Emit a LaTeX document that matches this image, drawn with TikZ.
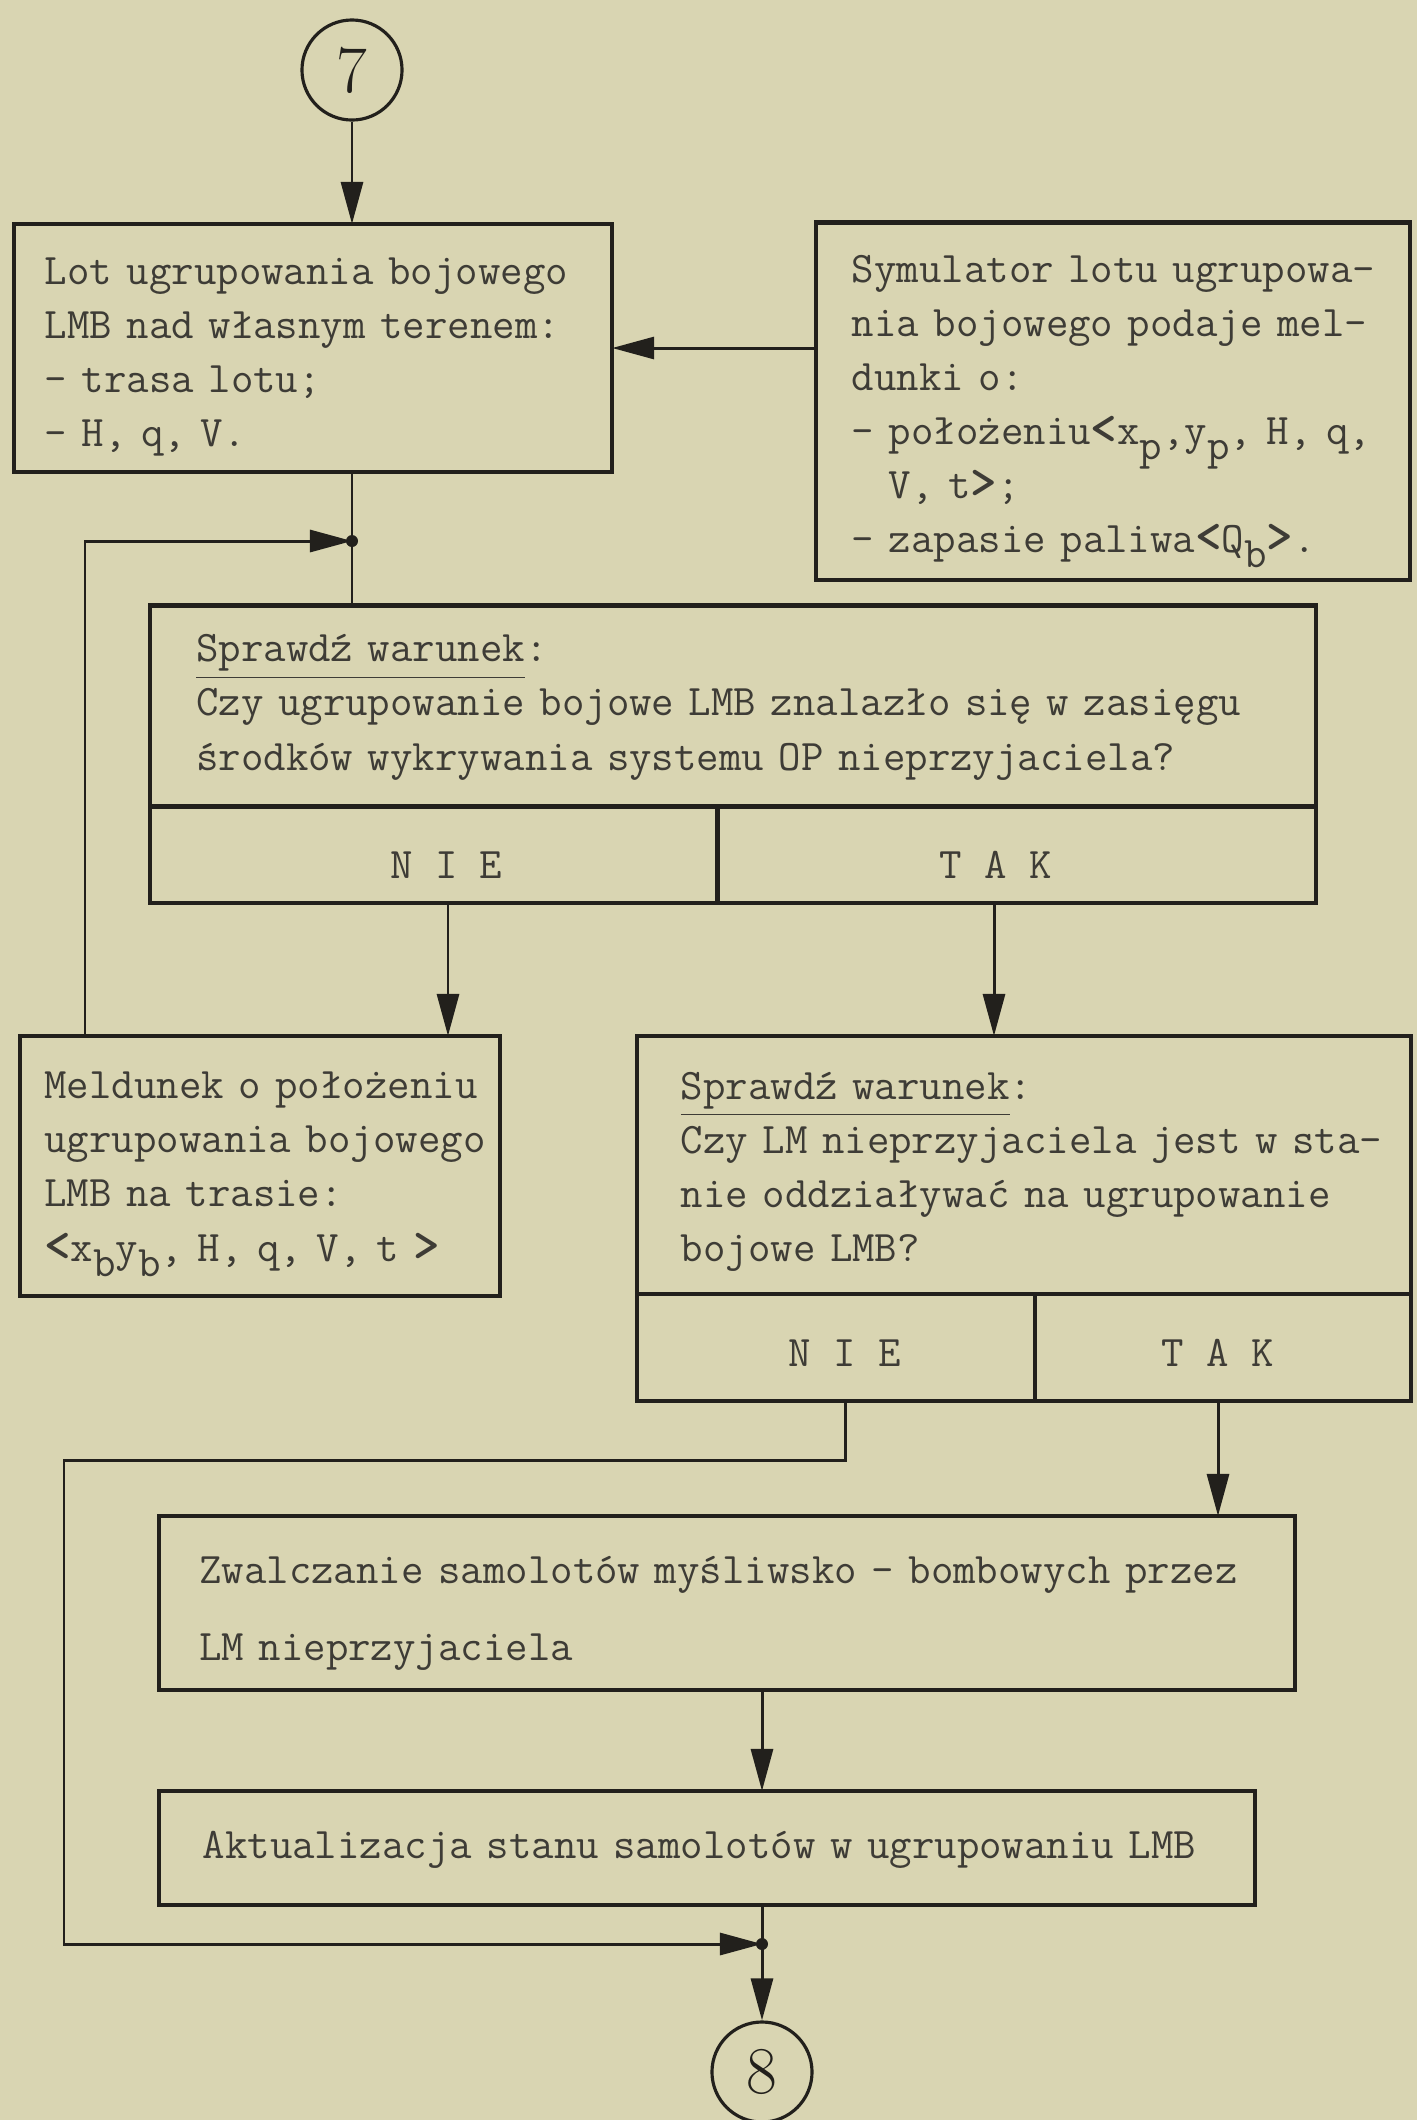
\documentclass[tikz,border=0pt]{standalone}
\usepackage{xcolor}
\usepackage{amsmath}
\usepackage{tikz}
\usetikzlibrary{arrows.meta}
\usetikzlibrary{positioning}

\definecolor{paper}{RGB}{217,213,178}
\definecolor{ink}{RGB}{34,32,28}
\definecolor{type}{RGB}{62,60,54}

\newcommand{\typ}{\fontsize{12.4}{15.4}\selectfont\ttfamily}
\newcommand{\lowr}[1]{\raisebox{-0.8ex}{#1}}
\newcommand{\angl}[1]{{\Large\bfseries #1}}

\begin{document}
\begin{tikzpicture}[x=0.01cm,y=-0.01cm,color=ink,line width=0.85pt,
  >={Triangle[length=0.42cm,width=0.22cm]},
  box/.style={draw,rectangle,line width=1.2pt,outer sep=0pt,inner sep=0pt,align=left,font=\typ,text=type,text height=13pt},
  indent/.style={execute at begin node={\leftskip=#1}},
  cell/.style={draw,rectangle,line width=1.2pt,outer sep=0pt,inner sep=0pt,font=\typ,text=type},
  ring/.style={draw,circle,minimum size=1cm,line width=0.9pt,font=\fontsize{19}{19}\selectfont},
  dot/.style={circle,fill,inner sep=0pt,minimum size=0.12cm}]
\fill[paper] (0,0) rectangle (1417,2120);
\useasboundingbox (0,0) rectangle (1417,2120);

\node[ring] at (352,70) (c7) {7};
\node[box,text width=5.98cm,minimum height=2.48cm,indent=0.31cm,text height=12.7pt] at (313,348) (lot)
  {Lot ugrupowania bojowego\\ LMB nad własnym terenem:\\ - trasa lotu;\\ - H, q, V.};
\node[box,text width=5.94cm,minimum height=3.57cm,indent=0.36cm,text height=13.7pt] at (1113,401) (sym)
  {Symulator lotu ugrupowa-\\ nia bojowego podaje mel-\\ dunki o:\\
   - położeniu\angl{<}x\lowr{p},y\lowr{p}, H, q,\\ \hphantom{- }V, t\angl{>};\\
   - zapasie paliwa\angl{<}Q\lowr{b}\angl{>}.};

\node[box,text width=11.65cm,minimum height=2.01cm,indent=0.46cm,text height=8.5pt] at (733,706) (q1)
  {\underline{Sprawdź warunek}:\\ Czy ugrupowanie bojowe LMB znalazło się w zasięgu\\
   środków wykrywania systemu OP nieprzyjaciela?};
\node[cell,minimum width=5.67cm,minimum height=0.96cm,text height=13.7pt,anchor=north west] at (q1.south west) (nie1) {\hspace*{0.25cm}N I E};
\node[cell,minimum width=5.98cm,minimum height=0.96cm,text height=13.7pt,right=0pt of nie1] (tak1) {T A K\hspace*{0.42cm}};

\node[box,text width=4.79cm,minimum height=2.6cm,indent=0.24cm,text height=12.2pt] at (260,1166) (meld)
  {Meldunek o położeniu\\ ugrupowania bojowego\\ LMB na trasie:\\
   \angl{<}x\lowr{b}y\lowr{b}, H, q, V, t \angl{>}};
\node[box,text width=7.74cm,minimum height=2.58cm,indent=0.44cm,text height=11.5pt] at (1024,1165) (q2)
  {\underline{Sprawdź warunek}:\\ Czy LM nieprzyjaciela jest w sta-\\
   nie oddziaływać na ugrupowanie\\ bojowe LMB?};
\node[cell,minimum width=3.98cm,minimum height=1.07cm,text height=10.7pt,anchor=north west] at (q2.south west) (nie2) {\hspace*{0.17cm}N I E};
\node[cell,minimum width=3.76cm,minimum height=1.07cm,text height=10.7pt,right=0pt of nie2] (tak2) {T A K\hspace*{0.11cm}};

\node[box,text width=11.35cm,minimum height=1.74cm,indent=0.40cm,text height=13.7pt] at (727,1603) (zw)
  {Zwalczanie samolotów myśliwsko - bombowych przez\\[0.23cm] LM nieprzyjaciela};
\node[box,text width=10.96cm,minimum height=1.14cm,indent=0.44cm,text height=9pt] at (707,1848) (akt)
  {Aktualizacja stanu samolotów w ugrupowaniu LMB};
\node[ring] at (762,2072) (c8) {8};

\coordinate (j1) at (352,541);
\coordinate (j2) at (762,1944);
\coordinate (lp) at (85,541);
\coordinate (lq) at (64,1460);
\coordinate (n1x) at (448,0);
\coordinate (t1x) at (994,0);
\coordinate (n2x) at (845,0);
\coordinate (t2x) at (1218,0);

\draw[->] (c7) -- (c7 |- lot.north);
\draw[->] (sym.west |- lot.east) -- (lot.east);
\draw (c7 |- lot.south) -- (c7 |- q1.north);
\draw[->] (lp |- meld.north) -- (lp) -- (j1);
\node[dot] at (j1) (d1) {};
\draw[->] (nie1.south -| n1x) -- (meld.north -| n1x);
\draw[->] (tak1.south -| t1x) -- (q2.north -| t1x);
\draw[->] (nie2.south -| n2x) |- (lq) |- (j2);
\draw[->] (tak2.south -| t2x) -- (zw.north -| t2x);
\draw[->] (zw.south -| c8) -- (akt.north -| c8);
\draw (akt.south -| c8) -- (j2);
\draw[->] (j2) -- (c8);
\node[dot] at (j2) (d2) {};
\end{tikzpicture}
\end{document}
